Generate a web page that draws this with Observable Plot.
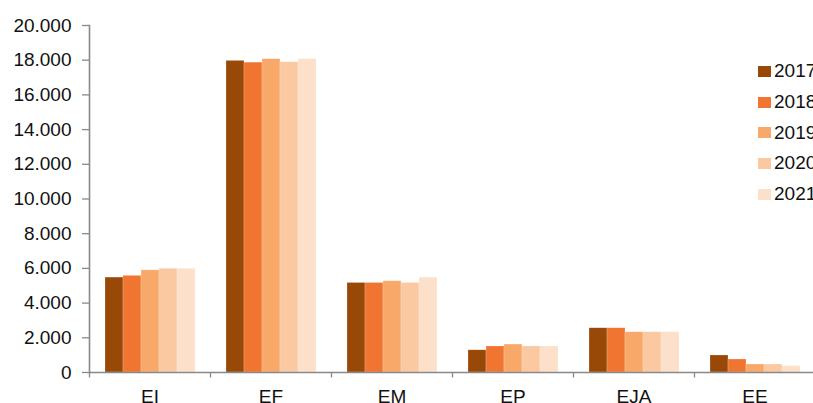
<!DOCTYPE html>
<html>
<head>
<meta charset="utf-8">
<script src="https://cdn.jsdelivr.net/npm/d3@7"></script>
<script src="https://cdn.jsdelivr.net/npm/@observablehq/plot@0.6"></script>
<style>
  html, body { margin: 0; padding: 0; background: #fff; }
  #wrap { position: relative; width: 813px; height: 403px; overflow: hidden; font-family: "Liberation Sans", Arial, sans-serif; }
  #legend { position: absolute; left: 758px; top: 56px; }
  .row { display: flex; align-items: center; height: 30.7px; white-space: nowrap; }
  .sw { width: 12.5px; height: 11px; margin-right: 3.5px; flex: none; }
  .lab { font-size: 19px; color: #111; }
</style>
</head>
<body>
<div id="wrap"><div id="chart"></div><div id="legend"></div></div>
<script>
const categories = ["EI", "EF", "EM", "EP", "EJA", "EE"];
const years = ["2017", "2018", "2019", "2020", "2021"];
const colors = ["#984807", "#f07530", "#f8a96a", "#fbc9a1", "#fde0c9"];
const v2017 = [5470, 17960, 5160, 1280, 2550, 980];
const v2018 = [5570, 17860, 5160, 1500, 2550, 750];
const v2019 = [5890, 18060, 5260, 1610, 2320, 460];
const v2020 = [5980, 17880, 5160, 1500, 2320, 460];
const v2021 = [5980, 18060, 5470, 1500, 2320, 365];
const yTicks = [0, 2000, 4000, 6000, 8000, 10000, 12000, 14000, 16000, 18000, 20000];

const series = [v2017, v2018, v2019, v2020, v2021];
const data = [];
categories.forEach((c, i) => years.forEach((y, j) => data.push({cat: c, year: y, value: series[j][i]})));

const fmt = d => d3.format(",")(d).replace(/,/g, ".");
const axisGray = "#898989";
const tickSym = {draw(ctx) { ctx.moveTo(0, 0); ctx.lineTo(0, 5); }};

const plot = Plot.plot({
  width: 813,
  height: 403,
  marginLeft: 89,
  marginRight: -2,
  marginTop: 25,
  marginBottom: 31,
  style: {fontFamily: "Liberation Sans, Arial, sans-serif", fontSize: "19px", color: "#111", background: "transparent"},
  fx: {domain: categories, padding: 0, label: null, axis: null},
  x: {domain: years, paddingInner: 0, paddingOuter: 0.75, axis: null},
  y: {domain: [0, 20000], label: null, axis: null},
  color: {domain: years, range: colors},
  marks: [
    Plot.barY(data, {fx: "cat", x: "year", y: "value", fill: "year", stroke: "#fff", strokeOpacity: 0.35, strokeWidth: 0.6}),
    Plot.ruleY([0], {stroke: axisGray, strokeWidth: 1.6}),
    Plot.dot(categories, {fx: d => d, frameAnchor: "bottom-left", symbol: tickSym, stroke: axisGray, strokeWidth: 1.3, r: 5}),
    Plot.frame({anchor: "left", facetAnchor: "left", stroke: axisGray, strokeWidth: 1.6}),
    Plot.axisY({ticks: yTicks, tickFormat: fmt, tickSize: 7, tickPadding: 11, stroke: axisGray, strokeWidth: 1.3, label: null, fontSize: 19, fill: "#111"}),
    Plot.axisFx({anchor: "bottom", tickSize: 0, tickPadding: 17, fontSize: 19, label: null, fill: "#111"})
  ]
});
document.getElementById("chart").appendChild(plot);

const leg = document.getElementById("legend");
years.forEach((y, j) => {
  const row = document.createElement("div");
  row.className = "row";
  const sw = document.createElement("div");
  sw.className = "sw";
  sw.style.background = plot.scale("color").apply(y);
  const lab = document.createElement("span");
  lab.className = "lab";
  lab.textContent = y;
  row.appendChild(sw); row.appendChild(lab);
  leg.appendChild(row);
});
</script>
</body>
</html>
